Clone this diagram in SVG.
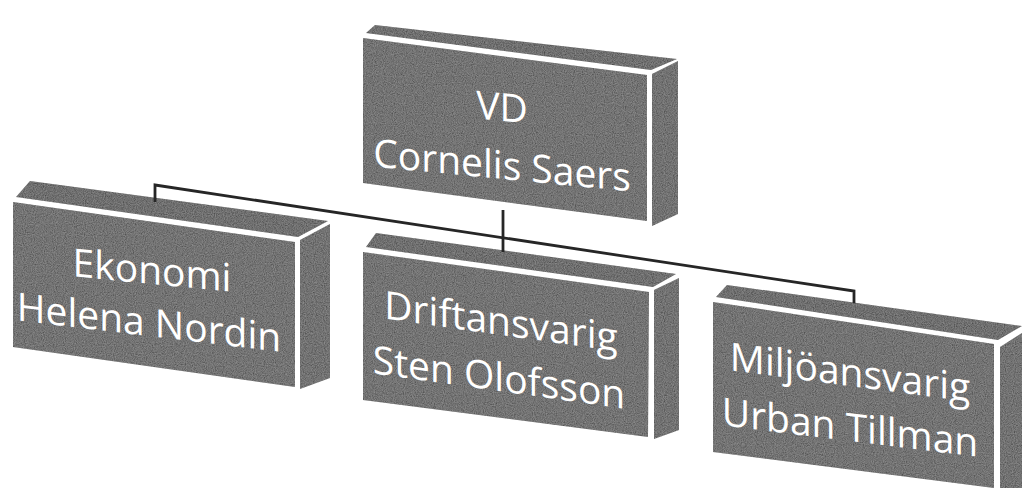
<svg xmlns="http://www.w3.org/2000/svg" width="1022" height="488" viewBox="0 0 1022 488">
  <defs>
    <filter id="grain" x="0" y="0" width="100%" height="100%">
      <feTurbulence type="fractalNoise" baseFrequency="0.9" numOctaves="2" seed="4" result="n"/>
      <feColorMatrix in="n" type="matrix" values="1.4 0 0 0 -0.2  1.4 0 0 0 -0.2  1.4 0 0 0 -0.2  0 0 0 0 0.18" result="g"/>
      <feComposite in="g" in2="SourceGraphic" operator="in" result="gi"/>
      <feMerge><feMergeNode in="SourceGraphic"/><feMergeNode in="gi"/></feMerge>
    </filter>
  </defs>
  <style>
    .front { fill: #5a5a5a; filter: url(#grain); }
    .top { fill: #555555; filter: url(#grain); }
    .side { fill: #585858; filter: url(#grain); }
    .lbl { font-family: "Open Sans", "Noto Sans", "Liberation Sans", sans-serif; font-size: 39px; fill: #ffffff; text-anchor: middle; }
    .conn { fill: none; stroke: #262626; stroke-width: 2.8; }
  </style>
  <rect width="1022" height="488" fill="#ffffff"/>

  <g id="node-vd">
    <polygon class="top" points="366,33 375,25 677,59 651,70"/>
    <polygon class="front" points="363,38 647,75 647,221 363,183"/>
    <polygon class="side" points="652,74 678,61 678,214 652,226"/>
    <text class="lbl" transform="translate(502,121) skewY(5.5)">VD</text>
    <text class="lbl" transform="translate(502,179) skewY(5.5)">Cornelis Saers</text>
  </g>

  <g id="node-ekonomi">
    <polygon class="top" points="16,197 30,181 328,221 298,237"/>
    <polygon class="front" points="13,202 295,242 295,387 13,347"/>
    <polygon class="side" points="300,240 330,224 330,378 300,389"/>
    <text class="lbl" transform="translate(152,284) skewY(5.5)">Ekonomi</text>
    <text class="lbl" transform="translate(149,336) skewY(6.8)">Helena Nordin</text>
  </g>

  <g id="node-drift">
    <polygon class="top" points="366,247 376,233 676,274 653,287"/>
    <polygon class="front" points="363,252 649,292 648,437 363,400"/>
    <polygon class="side" points="654,290 679,278 679,430 654,439"/>
    <text class="lbl" transform="translate(501,335) skewY(8)">Driftansvarig</text>
    <text class="lbl" transform="translate(499,391) skewY(8)">Sten Olofsson</text>
  </g>

  <g id="node-miljo">
    <polygon class="top" points="716,297 727,285 1022,326 998,340"/>
    <polygon class="front" points="713,302 994,344 994,488 713,452"/>
    <polygon class="side" points="1000,347 1022,333 1022,488 1000,488"/>
    <text class="lbl" transform="translate(850,386) skewY(7.5)">Miljöansvarig</text>
    <text class="lbl" transform="translate(850,441) skewY(7)">Urban Tillman</text>
  </g>

  <g id="connectors">
    <polyline class="conn" points="155,202 155,185 854,291 854,303"/>
    <line class="conn" x1="503" y1="210" x2="503" y2="252"/>
  </g>
</svg>
